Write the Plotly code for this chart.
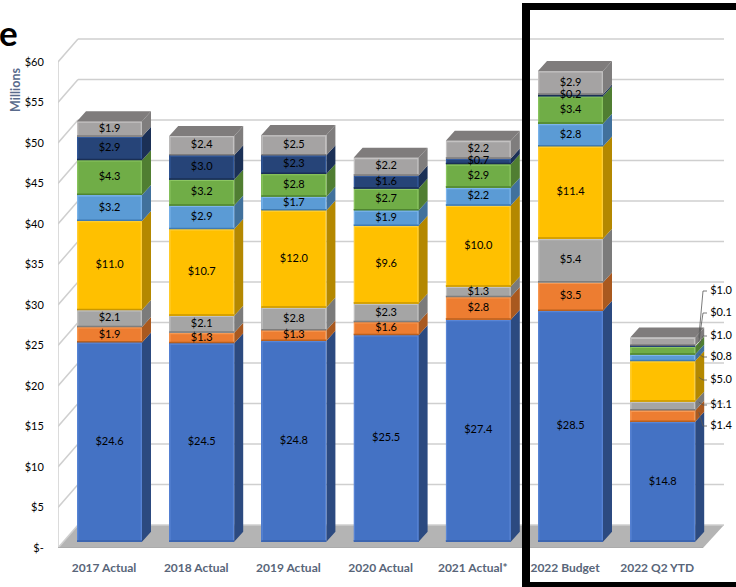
import plotly.graph_objects as go

categories = ["2017 Actual", "2018 Actual", "2019 Actual", "2020 Actual", "2021 Actual*", "2022 Budget", "2022 Q2 YTD"]
s_blue = [24.6, 24.5, 24.8, 25.5, 27.4, 28.5, 14.8]
s_orange = [1.9, 1.3, 1.3, 1.6, 2.8, 3.5, 1.4]
s_gray = [2.1, 2.1, 2.8, 2.3, 1.3, 5.4, 1.1]
s_gold = [11.0, 10.7, 12.0, 9.6, 10.0, 11.4, 5.0]
s_ltblue = [3.2, 2.9, 1.7, 1.9, 2.2, 2.8, 0.8]
s_green = [4.3, 3.2, 2.8, 2.7, 2.9, 3.4, 1.0]
s_navy = [2.9, 3.0, 2.3, 1.6, 0.7, 0.2, 0.1]
s_top = [1.9, 2.4, 2.5, 2.2, 2.2, 2.9, 1.0]
y_ticks = [0, 5, 10, 15, 20, 25, 30, 35, 40, 45, 50, 55, 60]
y_tick_text = ["$-", "$5", "$10", "$15", "$20", "$25", "$30", "$35", "$40", "$45", "$50", "$55", "$60"]

series = [s_blue, s_orange, s_gray, s_gold, s_ltblue, s_green, s_navy, s_top]
front = ["#4472C4", "#ED7D31", "#A5A5A5", "#FFC000", "#5B9BD5", "#70AD47", "#264478", "#A5A3A3"]
side = ["#2C4A80", "#A9591F", "#7B7B7B", "#B48800", "#41719C", "#507E32", "#1B3056", "#7F7D7D"]
hi = ["#5A86D6", "#F79A55", "#C2C2C2", "#FFCF3A", "#7DB5EC", "#8CC662", "#335A9C", "#C4C2C2"]
lo = ["#3A62AA", "#B8601F", "#7E7E7E", "#C99700", "#3F7BB3", "#4F8530", "#1A2F55", "#7F7D7D"]
top_face = "#7F7C7C"

PX_PER_X, PX_PER_Y = 92.2, 8.1
X0_PX, Y0_PX = 109.5, 541.7
L, R, T, B = 58, 0, 0, 39
W, H = 736, 587
px2x = lambda p: (p - X0_PX) / PX_PER_X
py2y = lambda p: (Y0_PX - p) / PX_PER_Y
paper_x = lambda p: (p - L) / (W - L - R)
paper_y = lambda p: (H - B - p) / (H - B - T)

bar_w = 65 / PX_PER_X
dx, dy = 9 / PX_PER_X, 10 / PX_PER_Y
wall_off = (548 - Y0_PX) / PX_PER_Y
wall_dy = 23 / PX_PER_Y
xs = list(range(len(categories)))
edge_x = 0.7 / PX_PER_X

fig = go.Figure()
shapes = []

# floor (below all traces)
floor_pts = [(58, 548), (78, 525), (724, 525), (703, 548)]
shapes.append(dict(type="path", xref="x", yref="y", layer="below", fillcolor="#B4B4B4", line=dict(width=0),
                   path="M " + " L ".join(f"{px2x(a)},{py2y(b)}" for a, b in floor_pts) + " Z"))
# walls
GRID = dict(color="#CFCFCF", width=1.5)
def seg(x0, y0, x1, y1, line=GRID):
    return dict(type="line", xref="x", yref="y", layer="below", x0=x0, y0=y0, x1=x1, y1=y1, line=line)
for v in y_ticks:
    f = v - wall_off
    shapes.append(seg(px2x(58), f, px2x(78), f + wall_dy))
    shapes.append(seg(px2x(78), f + wall_dy, px2x(724), f + wall_dy))
shapes.append(seg(px2x(58), y_ticks[0] - wall_off, px2x(58), y_ticks[-1] - wall_off))
shapes.append(seg(px2x(58), y_ticks[0] - wall_off, px2x(703), y_ticks[0] - wall_off, dict(color="#A8A8A8", width=1.5)))

# fronts
for vals, c in zip(series, front):
    fig.add_trace(go.Bar(x=xs, y=vals, width=bar_w, marker=dict(color=c, line=dict(width=0)), hoverinfo="skip"))

# sides and bevelled edges
base = [0.0] * len(xs)
centers_x, centers_y, labels = [], [], []
for k, (vals, c_side) in enumerate(zip(series, side)):
    sx, sy, ex_hi, ey_hi, ex_lo, ey_lo = [], [], [], [], [], []
    for i, v in enumerate(vals):
        x0, x1 = i - bar_w / 2, i + bar_w / 2
        b, t = base[i], base[i] + v
        sx += [x1, x1 + dx, x1 + dx, x1, x1, None]
        sy += [b, b + dy, t + dy, t, b, None]
        ex_hi += [x0 + edge_x, x0 + edge_x, x1 - edge_x, x1 - edge_x, None]
        ey_hi += [b + 0.1, t - 0.1, t - 0.1, b + 0.1, None]
        ex_lo += [x0, x1, None]
        ey_lo += [b + 0.08, b + 0.08, None]
        centers_x.append(i)
        centers_y.append((b + t) / 2)
        labels.append(f"${v:.1f}")
    fig.add_trace(go.Scatter(x=sx, y=sy, fill="toself", fillcolor=c_side, mode="lines",
                             line=dict(width=0, color=c_side), hoverinfo="skip"))
    fig.add_trace(go.Scatter(x=ex_hi, y=ey_hi, mode="lines", line=dict(color=hi[k], width=1.2), hoverinfo="skip"))
    fig.add_trace(go.Scatter(x=ex_lo, y=ey_lo, mode="lines", line=dict(color=lo[k], width=1.5), hoverinfo="skip"))
    base = [b + v for b, v in zip(base, vals)]

# top faces
tx, ty = [], []
for i, t in enumerate(base):
    x0, x1 = i - bar_w / 2, i + bar_w / 2
    tx += [x0, x0 + dx, x1 + dx, x1, x0, None]
    ty += [t, t + dy, t + dy, t, t, None]
fig.add_trace(go.Scatter(x=tx, y=ty, fill="toself", fillcolor=top_face, mode="lines",
                         line=dict(width=0, color=top_face), hoverinfo="skip"))

# data labels on bars, last column: callouts for all but the first segment
n = len(xs)
keep = [j for j in range(len(labels)) if not (centers_x[j] == n - 1 and labels[j] != "$14.8")]
fig.add_trace(go.Scatter(x=[centers_x[j] for j in keep], y=[centers_y[j] for j in keep],
                         text=[labels[j] for j in keep], mode="text", textposition="middle center",
                         textfont=dict(family="Lato", size=11, color="#000000"), hoverinfo="skip"))

# callouts of last column, bottom to top
callout_py = [426, 405, 380, 357, 336, 313, 291]
last = n - 1
cum = s_blue[last]
lx, ly, cx, cy, ct = [], [], [], [], []
for s, py in zip(series[1:], callout_py):
    v = s[last]
    mid = cum + v / 2
    cum += v
    lx += [last + bar_w / 2 + dx * 0.4, px2x(703), px2x(707), None]
    ly += [mid + dy * 0.4, py2y(py), py2y(py), None]
    cx.append(px2x(721))
    cy.append(py2y(py))
    ct.append(f"${v:.1f}")
fig.add_trace(go.Scatter(x=lx, y=ly, mode="lines", line=dict(color="#595959", width=0.8), hoverinfo="skip"))
fig.add_trace(go.Scatter(x=cx, y=cy, text=ct, mode="text", textposition="middle center",
                         textfont=dict(family="Lato", size=11, color="#000000"), hoverinfo="skip"))

def frame(x0, y0, x1, y1):
    return dict(type="rect", xref="paper", yref="paper", x0=paper_x(x0), x1=paper_x(x1),
                y0=paper_y(y1), y1=paper_y(y0), fillcolor="black", line=dict(width=0), layer="above")
shapes += [frame(522, 3, 736, 10), frame(522, 3, 530, 587), frame(522, 582, 736, 587)]

fig.update_layout(
    width=W, height=H, margin=dict(l=L, r=R, t=T, b=B, pad=0),
    paper_bgcolor="white", plot_bgcolor="white", showlegend=False,
    barmode="stack", bargap=0,
    xaxis=dict(range=[px2x(58), px2x(736)], tickmode="array",
               tickvals=[i - 5.5 / PX_PER_X for i in xs], ticktext=categories,
               showgrid=False, zeroline=False, showline=False, ticks="outside", ticklen=9,
               tickcolor="rgba(0,0,0,0)", tickfont=dict(family="Lato", size=12, color="#586579", weight="bold")),
    yaxis=dict(range=[-wall_off, py2y(0)], tickmode="array",
               tickvals=[v - wall_off for v in y_ticks], ticktext=y_tick_text,
               showgrid=False, zeroline=False, showline=False, ticks="outside", ticklen=11,
               tickcolor="rgba(0,0,0,0)", tickfont=dict(family="Lato", size=11, color="#000000")),
    shapes=shapes,
    annotations=[
        dict(text="Millions", xref="paper", yref="paper", x=paper_x(16), y=paper_y(90), textangle=-90,
             xanchor="center", yanchor="middle", showarrow=False,
             font=dict(family="Lato", size=12.5, color="#5A6B8C", weight="bold")),
        dict(text="e", xref="paper", yref="paper", x=paper_x(8), y=paper_y(32),
             xanchor="center", yanchor="middle", showarrow=False,
             font=dict(family="Lato", size=35, color="black", weight="bold")),
    ],
)
fig.write_html("out.html", config={"displayModeBar": False},
               post_script="document.body.style.margin='0';document.documentElement.style.margin='0';")
